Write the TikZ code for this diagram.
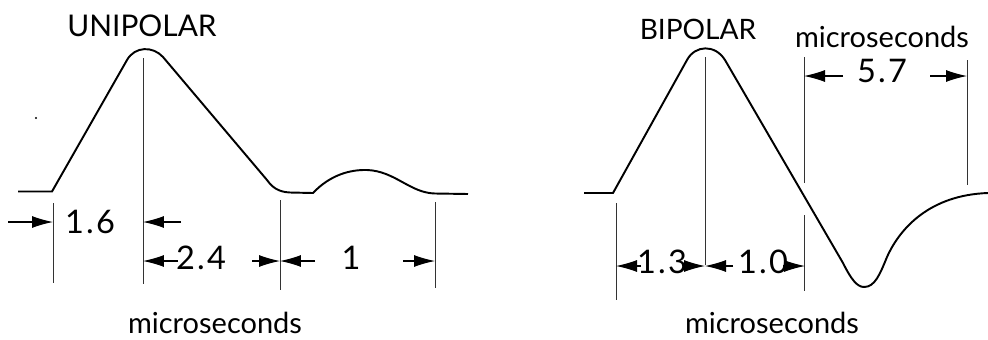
\documentclass[tikz,border=0pt]{standalone}
\usepackage{fontspec}
\setmainfont{Lato}
\usetikzlibrary{arrows.meta}
\tikzset{
  puls/.style={black,line width=1.1pt},
  hilf/.style={black!80,line width=0.55pt},
  mass/.style={-{Latex[length=4.2mm,width=2.4mm]},black,line width=0.6pt},
  lbl/.style={inner sep=0pt,font=\fontsize{16.5}{20}\selectfont},
  zahl/.style={inner sep=0pt,font=\fontsize{18.5}{20}\selectfont\addfontfeature{LetterSpace=7}},
}
\begin{document}
\begin{tikzpicture}[x=0.02cm,y=-0.02cm]
  \useasboundingbox (0,0) rectangle (988,339);
  % unipolar
  \node[lbl,font=\fontsize{17}{20}\selectfont] (utitle) at (142,25.5) {UNIPOLAR};
  \fill (36,118) circle (1.2);
  \draw[puls] (18,191.5)--(52,191.5)--(127,60) .. controls (135,46) and (153,46) .. (163,57)
    --(267,180) .. controls (272,187) and (278,192) .. (290,192.5)--(313,193)
    .. controls (330,175) and (350,169.5) .. (367,170) .. controls (395,171) and (410,193) .. (435,193.5)--(468,194);
  \draw[hilf] (53,203)--(53,283);
  \draw[hilf] (143,58)--(143,284);
  \draw[hilf] (280,200)--(280,290);
  \draw[hilf] (435,202)--(435,288);
  \node[zahl] (usechs) at (90,222) {1.6};
  \node[zahl] (uvier) at (201,258) {2.4};
  \node[zahl] (ueins) at (351,258) {1};
  \draw[mass] (8,222)--(53,222);
  \draw[mass] (181,222)--(143,222);
  \draw[mass] (178,261)--(143,261);
  \draw[mass] (252,261)--(280,261);
  \draw[mass] (315,261)--(280,261);
  \draw[mass] (403,261)--(435,261);
  \node[lbl] (umicro) at (215,323) {microseconds};
  % bipolar
  \node[lbl,font=\fontsize{16}{20}\selectfont] (btitle) at (698,29) {BIPOLAR};
  \node[lbl] (bmicroa) at (882,37) {microseconds};
  \draw[puls] (584,193)--(613,193)--(687,60) .. controls (695,45) and (715,44) .. (725,60)
    --(843,263) .. controls (851,279) and (857,287) .. (864,287) .. controls (875,287) and (880,274) .. (887,257)
    .. controls (900,228) and (930,195) .. (988,193);
  \draw[hilf] (616,203)--(616,300);
  \draw[hilf] (705,57)--(705,265);
  \draw[hilf] (804,57)--(804,183);
  \draw[hilf] (804,215)--(804,291);
  \draw[hilf] (967,60)--(967,185);
  \node[zahl] (bfuenf) at (882,71) {5.7};
  \node[zahl] (bdrei) at (662,262) {1.3};
  \node[zahl] (bnull) at (763,262) {1.0};
  \draw[mass] (843,76)--(804,76);
  \draw[mass] (930,76)--(967,76);
  \draw[mass] (641,266)--(616,266);
  \draw[mass] (684,266)--(705,266);
  \draw[mass] (733,266)--(705,266);
  \draw[mass] (783,266)--(805,266);
  \node[lbl] (bmicrob) at (772,323) {microseconds};
\end{tikzpicture}
\end{document}
